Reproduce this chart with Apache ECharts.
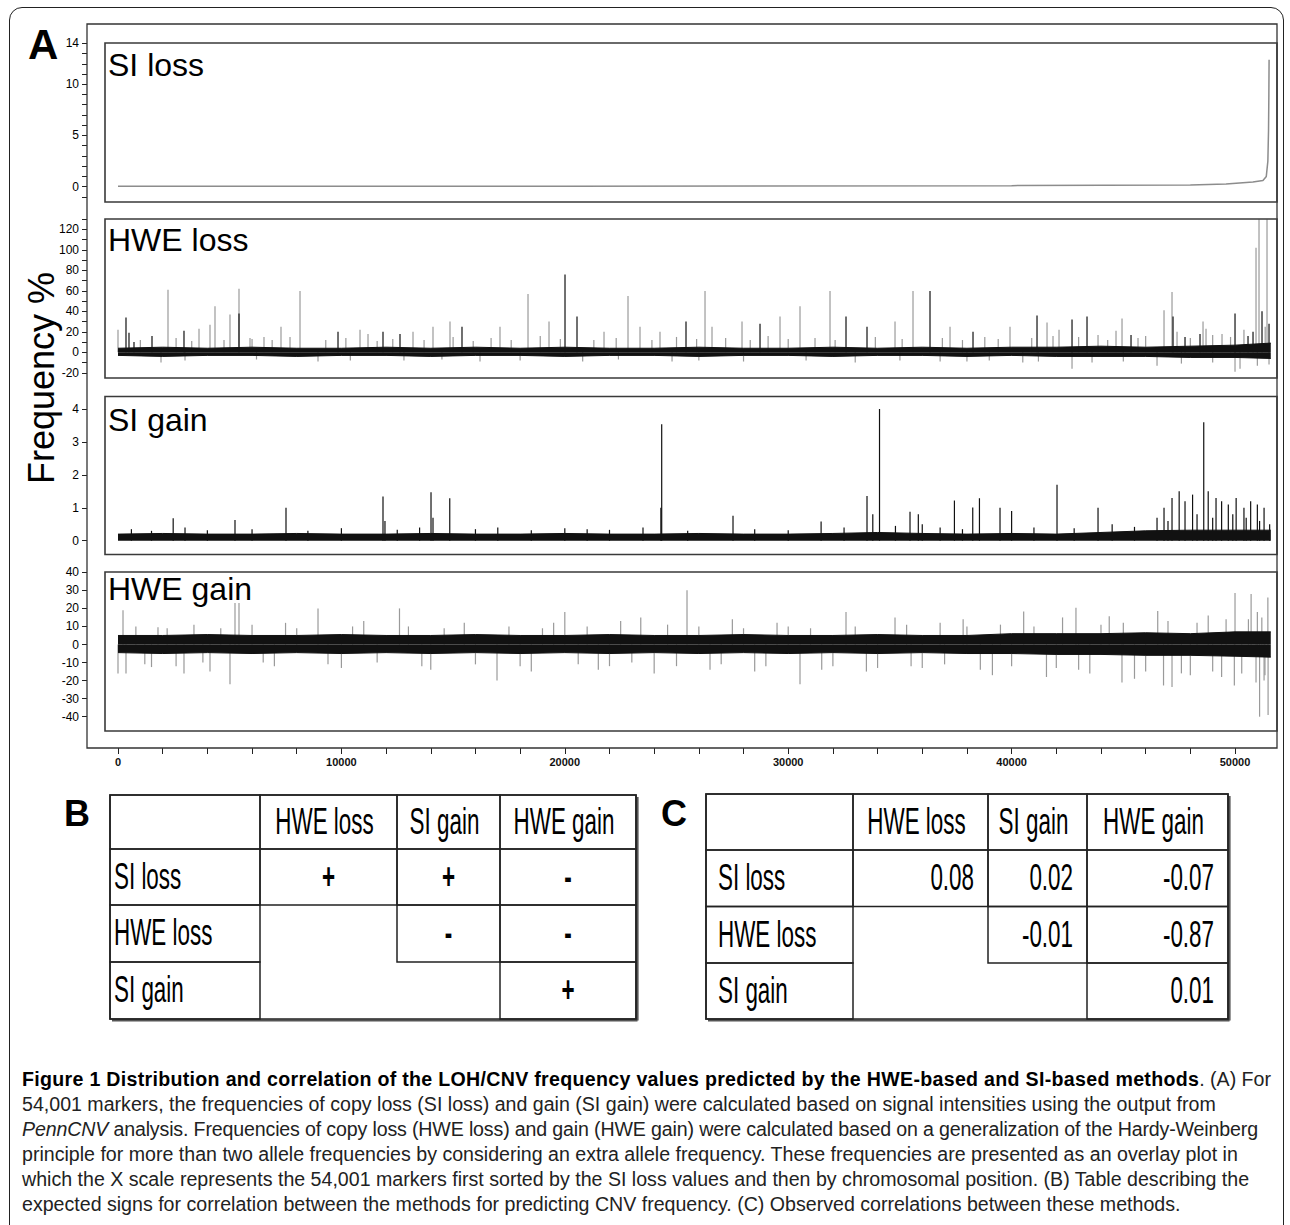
<!DOCTYPE html>
<html>
<head>
<meta charset="utf-8">
<script src="https://cdn.jsdelivr.net/npm/echarts@6/dist/echarts.min.js"></script>
<style>
html, body { margin: 0; padding: 0; background: #fff; }
#frame { position: absolute; left: 9px; top: 7px; width: 1273px; height: 1260px; border: 1px solid #222; border-radius: 13px; }
#chart { position: absolute; left: 0; top: 0; width: 1290px; height: 1040px; }
#caption { position: absolute; left: 22px; top: 1067px; font-family: 'Liberation Sans', Arial, sans-serif; font-size: 19.6px; line-height: 25px; color: #222; white-space: nowrap; }
#caption b { color: #000; letter-spacing: 0.3px; }
#caption .tight { letter-spacing: -0.15px; }
</style>
</head>
<body>
<div id="frame"></div>
<div id="chart"></div>
<div id="caption">
<div><b>Figure 1 Distribution and correlation of the LOH/CNV frequency values predicted by the HWE-based and SI-based methods</b>. (A) For</div>
<div>54,001 markers, the frequencies of copy loss (SI loss) and gain (SI gain) were calculated based on signal intensities using the output from</div>
<div class="tight"><i>PennCNV</i> analysis. Frequencies of copy loss (HWE loss) and gain (HWE gain) were calculated based on a generalization of the Hardy-Weinberg</div>
<div>principle for more than two allele frequencies by considering an extra allele frequency. These frequencies are presented as an overlay plot in</div>
<div>which the X scale represents the 54,001 markers first sorted by the SI loss values and then by chromosomal position. (B) Table describing the</div>
<div>expected signs for correlation between the methods for predicting CNV frequency. (C) Observed correlations between these methods.</div>
</div>
<script>
// ---- data (marker index, frequency %) ----
const panelNames = ['SI loss', 'HWE loss', 'SI gain', 'HWE gain'];

// SI loss: sorted values, flat then a steep rise at the very end
const siLossX = [0, 20000, 40000, 48000, 49600, 50800, 51250, 51400, 51470, 51500, 51515, 51525];
const siLossY = [0.05, 0.05, 0.1, 0.15, 0.25, 0.45, 0.6, 1.0, 2.5, 5.5, 9, 12.4];

// dense noise band envelope, sampled every 2000 markers
const bandX = [0, 2000, 4000, 6000, 8000, 10000, 12000, 14000, 16000, 18000, 20000, 22000, 24000,
  26000, 28000, 30000, 32000, 34000, 36000, 38000, 40000, 42000, 44000, 46000, 48000, 50000, 51600];
const hweLossUp = [4, 5, 4, 5, 4, 4, 5, 4, 5, 4, 5, 4, 4, 5, 4, 4, 5, 4, 5, 4, 5, 5, 6, 5, 6, 7, 9];
const hweLossLo = [-3, -4, -3, -3, -4, -3, -3, -4, -3, -3, -4, -3, -3, -4, -3, -3, -4, -3, -3, -4, -3, -4, -4, -4, -5, -5, -6];
const siGainUp = [0.2, 0.22, 0.2, 0.2, 0.22, 0.2, 0.2, 0.22, 0.2, 0.2, 0.22, 0.2, 0.2, 0.22, 0.2, 0.2,
  0.22, 0.25, 0.22, 0.2, 0.22, 0.2, 0.25, 0.3, 0.32, 0.32, 0.32];
const hweGainUp = [5, 5, 5.5, 5, 5, 5.5, 5, 5, 5.5, 5, 5, 5.5, 5, 5, 5.5, 5, 5, 5.5, 5, 5, 6, 6, 6, 6.5, 6, 7, 7];
const hweGainLo = [-4.5, -5, -4.5, -5, -4.5, -5, -4.5, -5, -4.5, -5, -4.5, -5, -4.5, -5, -4.5, -5, -4.5, -5,
  -4.5, -5, -5, -5.5, -5.5, -6, -6, -6.5, -7];

// single-marker spikes [marker, value]
const hweLossGrey = [[0, 22], [1925, -10], [2238, 61], [3626, 23], [4118, 27], [4342, 45], [4745, 12], [5013, 37],
  [5416, 62], [5909, 14], [6535, 15], [7296, 25], [8147, 60], [8953, -9], [10833, 22], [11191, 18], [12800, -8],
  [13205, 20], [14100, 25], [14861, 30], [16204, -9], [17099, 25], [18353, 57], [19293, 30], [21755, 20],
  [22829, 55], [23366, 25], [24261, 20], [24800, -9], [26276, 60], [26589, 25], [27932, 30], [29633, 35],
  [30528, 45], [31871, 60], [33000, -10], [34781, 30], [35586, 60], [37243, 25], [38000, -9], [39928, 25],
  [40500, -10], [41585, 29], [41853, 16], [42122, 22], [42704, -16], [43868, 17], [44673, 21], [44942, 33],
  [45658, 14], [46509, -13], [46822, 41], [47180, 59], [47404, 20], [48568, 30], [48702, 23], [49418, 18],
  [50000, -19], [50224, -16], [50940, 102], [51074, 130], [51432, 130], [51522, -12],
  [1000, 12], [2600, 14], [3300, 11], [6000, 13], [6900, 12], [7700, 15], [9300, 12], [10200, 14], [11600, 11],
  [12300, 13], [13700, 12], [15000, 15], [15900, 11], [16700, 14], [17600, 12], [18900, 16], [19800, 13],
  [21300, 12], [22300, 14], [23900, 12], [25000, 15], [25900, 13], [27200, 14], [28300, 12], [29100, 16],
  [30000, 13], [31200, 14], [32100, 12], [33900, 15], [35100, 13], [36900, 14], [37800, 12], [38800, 15],
  [39400, 13], [40900, 14], [43000, 15], [44300, 12], [46000, 16], [48000, 14], [49000, 17], [49800, 15],
  [50400, 22], [51350, 25],
  [3000, -8], [6200, -7], [10400, -8], [14500, -7], [18000, -8], [20800, -9], [22400, -7], [26000, -8],
  [28000, -9], [30800, -8], [35000, -8], [36800, -9], [39000, -8], [41200, -9], [43600, -10], [45000, -9],
  [47600, -11], [49000, -10], [51000, -13]];
const hweLossBlack = [[358, 34], [492, 19], [716, 10], [1522, 16], [2954, 21], [5416, 38], [9848, 20], [11862, 20],
  [12623, 18], [15398, 25], [20009, 76], [20546, 35], [25425, 30], [28738, 28], [32587, 35], [33527, 25],
  [36347, 60], [38272, 20], [41137, 36], [42704, 32], [43375, 35], [45345, 17], [47225, 35], [47762, 15],
  [48433, 18], [50000, 38], [50582, 16], [50806, 20], [51208, 40], [51522, 28]];
const siGainBlack = [[2470, 0.68], [5237, 0.63], [7520, 1.0], [11862, 1.34], [11950, 0.6], [14011, 1.47],
  [14100, 0.7], [14850, 1.29], [17000, 0.4], [21000, 0.35], [24300, 1.0], [24337, 3.54], [27529, 0.76],
  [31472, 0.58], [33527, 1.36], [33786, 0.8], [34087, 4.0], [35452, 0.88], [35824, 0.8], [36000, 0.5],
  [37440, 1.22], [38260, 1.01], [38560, 1.29], [39481, 1.0], [40000, 0.9], [42032, 1.7], [43868, 1.0],
  [46509, 0.7], [46822, 1.0], [47180, 1.3], [47500, 1.5], [47762, 1.2], [48100, 1.4], [48600, 3.6],
  [48800, 1.5], [49150, 1.3], [49400, 1.2], [49700, 1.1], [50050, 1.3], [50400, 1.0], [50700, 1.2],
  [51000, 1.1], [51300, 1.0], [51550, 0.5],
  [600, 0.35], [1500, 0.3], [3000, 0.4], [4000, 0.32], [6000, 0.35], [8500, 0.3], [10000, 0.38], [12500, 0.33],
  [13500, 0.4], [16000, 0.35], [18500, 0.32], [20000, 0.38], [22000, 0.33], [23500, 0.4], [25500, 0.3],
  [28500, 0.35], [30000, 0.32], [32500, 0.4], [34800, 0.45], [36800, 0.4], [37800, 0.35], [41000, 0.4],
  [42800, 0.38], [44500, 0.5], [45500, 0.42], [47000, 0.6], [48300, 0.8], [49000, 0.7], [49900, 0.8],
  [50500, 0.7], [51100, 0.6]];
const hweGainGrey = [[0, -16], [224, 19], [358, -16], [1500, -12.5], [1790, 9.6], [2954, -16], [4118, -15],
  [5013, -22], [5237, 23], [5416, 23], [6500, -10], [7500, 12], [8953, 20], [10000, -13], [11000, 13],
  [12600, 20], [14000, -14], [15500, 12], [16965, -20], [18500, -15], [19500, 12], [20000, 18], [21500, -14],
  [22500, 13], [23400, 15], [24000, -16], [25470, 30], [26500, -14], [27500, 14], [28500, -15], [29500, 12],
  [30528, -22], [31500, -14], [32587, 18], [33500, -15], [34781, 15], [36000, -13], [36800, 12], [37830, 14],
  [38600, -14], [39140, -17], [40540, 18.3], [41560, -18], [42280, 15], [42880, 20.3], [43500, -16],
  [44370, 15.7], [44940, -21], [45500, -19], [46540, 18.5], [46800, -22.7], [47180, -23.6], [48000, -17],
  [48800, 16], [49400, -18], [49970, -22.7], [50000, 28.6], [50720, 28], [50940, -21], [51100, -40],
  [51200, 15], [51340, -17], [51470, 26], [51480, -39],
  [800, 10], [1200, -11], [2200, 9], [2600, -12], [3400, 11], [3800, -10], [4600, 9], [6000, 11], [7000, -12],
  [8000, 9], [9400, -11], [10500, 10], [11600, -10], [13000, 10], [13600, -12], [14600, 9], [16000, -11],
  [17500, 10], [18000, -12], [19000, 9], [20600, -11], [21000, 10], [22000, -12], [23000, -10], [24600, 11],
  [25000, -12], [26000, 10], [27000, -11], [28000, 9], [29000, -12], [30000, 10], [31000, 9], [32000, -12],
  [33000, 10], [34000, -13], [35300, 11], [35500, -12], [37000, -11], [38000, 10], [39500, 11], [40000, -12],
  [41000, 10], [42000, -13], [43000, -14], [44000, 11], [45000, 12], [46000, -15], [47000, 13], [47600, -16],
  [48300, 12], [49000, -15], [49600, 14], [50300, -16], [50600, 14], [51000, 18], [51300, -20]];

// tables B and C
const tableRows = ['SI loss', 'HWE loss', 'SI gain'];
const tableCols = ['HWE loss', 'SI gain', 'HWE gain'];
const expectedSigns = [['+', '+', '-'], ['', '-', '-'], ['', '', '+']];
const observedCorr = [['0.08', '0.02', '-0.07'], ['', '-0.01', '-0.87'], ['', '', '0.01']];

// ---- helpers ----
const zip = (xs, ys) => xs.map((x, i) => [x, ys[i]]);
const INK = '#111';
const GREY = '#9a9a9a';

function rect(x, y, w, h, lw, color) {
  return { type: 'rect', z: 100, silent: true, shape: { x: x, y: y, width: w, height: h },
    style: { fill: 'none', stroke: color || '#333', lineWidth: lw || 1.5 } };
}
function seg(x1, y1, x2, y2, lw, color) {
  return { type: 'line', z: 100, silent: true, shape: { x1: x1, y1: y1, x2: x2, y2: y2 },
    style: { stroke: color || '#222', lineWidth: lw || 1.5 } };
}
function txt(s, x, y, font, align, extra) {
  return Object.assign({ type: 'text', z: 101, silent: true, x: x, y: y,
    style: { text: s, font: font, fill: '#000', textAlign: align || 'left', textVerticalAlign: 'middle' } }, extra || {});
}

function buildTable(colX, rowY, cells, letter, letterX, labelX, mode) {
  const els = [];
  const cellFont = '27px "Liberation Sans", Arial, sans-serif';
  const boldFont = 'bold 27px "Liberation Sans", Arial, sans-serif';
  const sc = { scaleX: 0.83, scaleY: 1.4 };
  const L = colX[0], R = colX[4], T = rowY[0], B = rowY[4];
  // drop shadow on bottom/right
  els.push(seg(L + 2, B + 1.5, R + 1.5, B + 1.5, 2.2, '#555'));
  els.push(seg(R + 1.5, T + 2, R + 1.5, B + 1.5, 2.2, '#555'));
  // header row
  for (let j = 0; j < 4; j++) els.push(rect(colX[j], rowY[0], colX[j + 1] - colX[j], rowY[1] - rowY[0], 1.5, '#222'));
  for (let i = 0; i < 3; i++) {
    els.push(rect(colX[0], rowY[i + 1], colX[1] - colX[0], rowY[i + 2] - rowY[i + 1], 1.5, '#222'));
    for (let j = i; j < 3; j++) {
      els.push(rect(colX[j + 1], rowY[i + 1], colX[j + 2] - colX[j + 1], rowY[i + 2] - rowY[i + 1], 1.5, '#222'));
    }
  }
  els.push(rect(L, T, R - L, B - T, 1.6, '#222'));
  // texts
  for (let j = 0; j < 3; j++) {
    const cx = (colX[j + 1] + colX[j + 2]) / 2 - 4;
    els.push(txt(tableCols[j], cx, (rowY[0] + rowY[1]) / 2 - 1, cellFont, 'center', sc));
  }
  for (let i = 0; i < 3; i++) {
    const cy = (rowY[i + 1] + rowY[i + 2]) / 2 - 1;
    els.push(txt(tableRows[i], labelX, cy, cellFont, 'left', sc));
    for (let j = i; j < 3; j++) {
      const v = cells[i][j];
      if (mode === 'sign') {
        els.push(txt(v, (colX[j + 1] + colX[j + 2]) / 2, cy, boldFont, 'center', sc));
      } else {
        els.push(txt(v, colX[j + 2] - 14, cy, cellFont, 'right', sc));
      }
    }
  }
  els.push(txt(letter, letterX, 813, 'bold 36px "Liberation Sans", Arial, sans-serif', 'left'));
  return els;
}

// ---- layout ----
// panel grids start at the left axis line (x = 87); marker 0 sits at x = 118
const xMinPanel = -1387.6;
const panelGrids = [
  { top: 43.3, height: 153.6 },  // SI loss   -1 .. 14
  { top: 219.2, height: 153.6 }, // HWE loss -20 .. 130
  { top: 409, height: 131.7 },   // SI gain    0 .. 4
  { top: 572.3, height: 144.4 }  // HWE gain -40 .. 40
];
const panelBoxes = [[43, 202], [219, 378], [396.5, 554.5], [572, 731]];
const titleY = [65, 240, 420, 589];
const yCfg = [
  { min: -1, max: 14, interval: 1, labels: [0, 5, 10, 14] },
  { min: -20, max: 130, interval: 10, labels: [-20, 0, 20, 40, 60, 80, 100, 120] },
  { min: 0, max: 4, interval: 1, labels: [0, 1, 2, 3, 4] },
  { min: -40, max: 40, interval: 10, labels: [-40, -30, -20, -10, 0, 10, 20, 30, 40] }
];

const grids = panelGrids.map(g => ({ left: 87, right: 10.3, top: g.top, height: g.height }));
grids.push({ left: 118, right: 55, top: 700, height: 48 });

const xAxes = panelGrids.map((g, i) => ({ gridIndex: i, type: 'value', min: xMinPanel, max: 52000, show: false }));
xAxes.push({
  gridIndex: 4, type: 'value', min: 0, max: 50000, interval: 2000,
  axisLine: { show: false, onZero: false },
  axisTick: { show: true, length: 6, lineStyle: { color: '#222', width: 1 } },
  axisLabel: { margin: 8, color: '#111', fontFamily: 'Liberation Sans', fontWeight: 'bold', fontSize: 11,
    formatter: v => (v % 10000 === 0 ? String(v) : '') },
  splitLine: { show: false }
});

const yAxes = yCfg.map((c, i) => ({
  gridIndex: i, type: 'value', min: c.min, max: c.max, interval: c.interval,
  position: 'left',
  axisLine: { show: false, onZero: false },
  axisTick: { show: true, length: 5, lineStyle: { color: '#222', width: 1 } },
  axisLabel: { margin: 8, color: '#000', fontFamily: 'Liberation Sans', fontSize: 12,
    formatter: v => (c.labels.indexOf(v) >= 0 ? String(v) : '') },
  splitLine: { show: false }
}));
yAxes.push({ gridIndex: 4, type: 'value', show: false });

function bandSeries(idx, ys) {
  return { type: 'line', xAxisIndex: idx, yAxisIndex: idx, data: zip(bandX, ys), symbol: 'none',
    clip: false, z: 4, lineStyle: { color: INK, width: 1 },
    areaStyle: { origin: 0, color: INK, opacity: 1 } };
}
function spikeSeries(idx, grey, black) {
  const data = grey.map(d => ({ value: d, itemStyle: { color: GREY } }))
    .concat(black.map(d => ({ value: d, itemStyle: { color: INK } })));
  return { type: 'bar', xAxisIndex: idx, yAxisIndex: idx, data: data, barWidth: 1.2, clip: false, z: 3 };
}

const series = [
  { type: 'line', xAxisIndex: 0, yAxisIndex: 0, data: zip(siLossX, siLossY), symbol: 'none', clip: false,
    lineStyle: { color: '#8c8c8c', width: 1.5 } },
  spikeSeries(1, hweLossGrey, hweLossBlack),
  bandSeries(1, hweLossUp),
  bandSeries(1, hweLossLo),
  spikeSeries(2, [], siGainBlack),
  bandSeries(2, siGainUp),
  spikeSeries(3, hweGainGrey, []),
  bandSeries(3, hweGainUp),
  bandSeries(3, hweGainLo)
];

// ---- graphic decorations ----
let els = [];
els.push(rect(87, 24, 1190, 724, 1.3, '#333'));
panelBoxes.forEach((b, i) => {
  els.push(rect(105, b[0], 1172, b[1] - b[0], 1.6, '#3a3a3a'));
  els.push(txt(panelNames[i], 108, titleY[i], '32px "Liberation Sans", Arial, sans-serif', 'left'));
});
els.push(txt('A', 28, 44, 'bold 42px "Liberation Sans", Arial, sans-serif', 'left'));
els.push(txt('Frequency %', 41, 378, '36px "Liberation Sans", Arial, sans-serif', 'center', { rotation: Math.PI / 2 }));
els = els.concat(buildTable([110, 260, 397, 500, 636], [795, 849, 905, 962, 1019], expectedSigns, 'B', 64, 114, 'sign'));
els = els.concat(buildTable([706, 853, 988, 1087, 1228], [794, 850, 906.5, 963, 1019], observedCorr, 'C', 661, 718, 'num'));

const chart = echarts.init(document.getElementById('chart'), null, { renderer: 'svg' });
chart.setOption({
  animation: false,
  grid: grids,
  xAxis: xAxes,
  yAxis: yAxes,
  series: series,
  graphic: { elements: els }
});
</script>
</body>
</html>
